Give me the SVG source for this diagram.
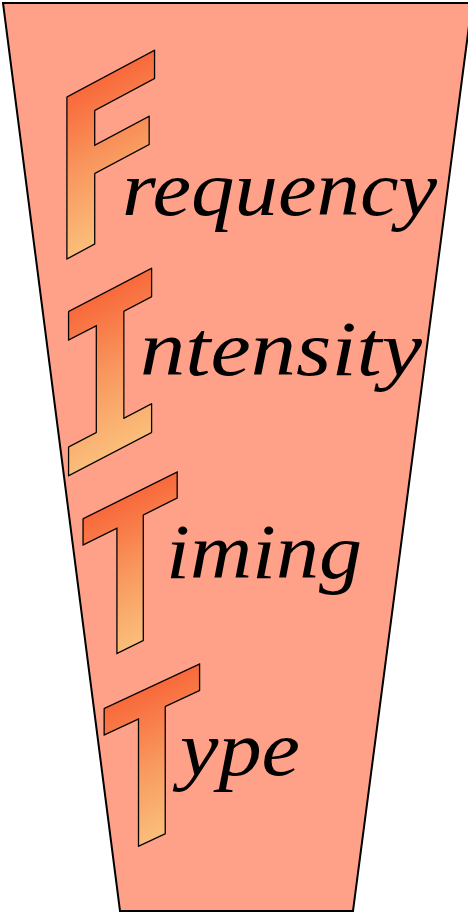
<svg xmlns="http://www.w3.org/2000/svg" width="468" height="913" viewBox="0 0 468 913">
<defs>
<linearGradient id="g" x1="0" y1="0" x2="0" y2="1">
<stop offset="0" stop-color="#f94f28"/>
<stop offset="0.5" stop-color="#f89a60"/>
<stop offset="1" stop-color="#fcd68c"/>
</linearGradient>
<style>
.big{font-family:"DejaVu Sans Mono",monospace;font-weight:bold;fill:url(#g);stroke:#000;stroke-width:1.5;stroke-linejoin:round;text-anchor:middle}
.word{font-family:"Liberation Serif",serif;font-style:italic;font-size:78px;fill:#000}
</style>
</defs>
<polygon id="bg" points="3,3 472,3 353,911 120,911" fill="#ffa189" stroke="#000" stroke-width="2"/>
<g id="frequency">
<text class="big" font-size="222" transform="translate(108,237) skewY(-28) scale(0.87,1)">F</text>
<text class="word" x="122" y="215" textLength="315" lengthAdjust="spacingAndGlyphs">requency</text>
</g>
<g id="intensity">
<text class="big" font-size="225" transform="translate(110,454) skewY(-27.5) scale(0.85,1)">I</text>
<text class="word" x="140" y="375" textLength="282" lengthAdjust="spacingAndGlyphs">ntensity</text>
</g>
<g id="timing">
<text class="big" font-size="208" transform="translate(130,647) skewY(-26.5) scale(0.88,1)">T</text>
<text class="word" x="166" y="578" textLength="196" lengthAdjust="spacingAndGlyphs">iming</text>
</g>
<g id="type">
<text class="big" font-size="211" transform="translate(152,840) skewY(-25) scale(0.88,1)">T</text>
<text class="word" x="180" y="775" textLength="120" lengthAdjust="spacingAndGlyphs">ype</text>
</g>
</svg>
